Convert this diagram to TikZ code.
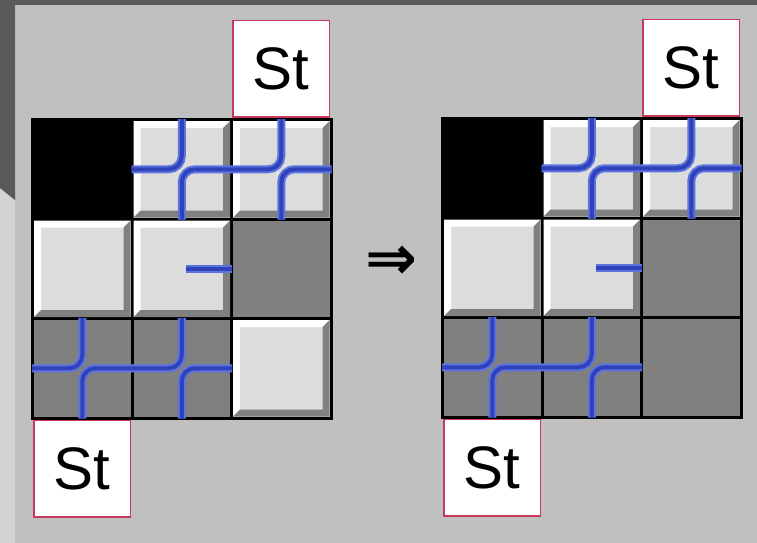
\documentclass[tikz,border=0pt]{standalone}
\usepackage{fontspec}
\setmainfont{Liberation Sans}
\newfontfamily\arrowfont{DejaVu Sans}
\usepackage{tikz}
\usetikzlibrary{positioning}

\definecolor{bggrey}{HTML}{C0C0C0}
\definecolor{framegrey}{HTML}{5A5A5A}
\definecolor{stripgrey}{HTML}{D3D3D3}
\definecolor{facegrey}{HTML}{DCDCDC}
\definecolor{shadegrey}{HTML}{808080}
\definecolor{pipeedge}{HTML}{5C74DE}
\definecolor{pipecore}{HTML}{2F42BC}
\definecolor{stred}{HTML}{C8385A}

\begin{document}
\begin{tikzpicture}[x=1pt, y=-1pt, node distance=3pt,
    cell/.style={rectangle, minimum size=96.5pt, inner sep=0pt, outer sep=0pt},
    blacktile/.style={cell, fill=black},
    darktile/.style={cell, fill=shadegrey},
    lighttile/.style={cell, fill=facegrey, path picture={
        \fill[white] (path picture bounding box.north west) -- (path picture bounding box.north east)
            -- ++(-7,7) -- ([shift={(7,7)}]path picture bounding box.north west)
            -- ([shift={(7,-7)}]path picture bounding box.south west) -- (path picture bounding box.south west) -- cycle;
        \fill[shadegrey] (path picture bounding box.south east) -- (path picture bounding box.south west)
            -- ++(7,-7) -- ([shift={(-7,-7)}]path picture bounding box.south east)
            -- ([shift={(-7,7)}]path picture bounding box.north east) -- (path picture bounding box.north east) -- cycle;
    }},
    grid/.style={rectangle, fill=black, minimum size=301.5pt, inner sep=0pt, outer sep=0pt, anchor=north west},
    startbox/.style={cell, draw=stred, line width=1.5pt, fill=white, font=\fontsize{60}{60}\selectfont},
    pipe/.style={draw=pipeedge, double=pipecore, line width=2pt, double distance=4pt, rounded corners=13pt, shorten <=-2pt, shorten >=-2pt}]

    \useasboundingbox (0,0) rectangle (757,543);
    \fill[bggrey] (0,0) rectangle (757,543);
    \fill[stripgrey] (0,188) -- (15,200) -- (15,543) -- (0,543) -- cycle;
    \fill[framegrey] (0,0) -- (757,0) -- (757,5) -- (15,5) -- (15,200) -- (0,188) -- cycle;

    % before
    \node (Lgrid) [grid] at (31,118) {};
    \node (L11) [blacktile, anchor=north west] at ([shift={(3,3)}]Lgrid.north west) {};
    \node (L12) [lighttile, right=of L11] {};
    \node (L13) [lighttile, right=of L12] {};
    \node (L21) [lighttile, below=of L11] {};
    \node (L22) [lighttile, right=of L21] {};
    \node (L23) [darktile, right=of L22] {};
    \node (L31) [darktile, below=of L21] {};
    \node (L32) [darktile, right=of L31] {};
    \node (L33) [lighttile, right=of L32] {};

    \node (Ltop) [startbox, above=4pt of L13] {St};
    \node (Lbot) [startbox, below=4pt of L31] {St};

    \draw [pipe] (L12.north) -- (L12.center) -- (L12.west);
    \draw [pipe] (L12.east) -- (L12.center) -- (L12.south);
    \draw [pipe] (L13.north) -- (L13.center) -- (L13.west);
    \draw [pipe] (L13.east) -- (L13.center) -- (L13.south);
    \draw [pipe, shorten <=4pt] (L22.center) -- (L22.east);
    \draw [pipe] (L31.north) -- (L31.center) -- (L31.west);
    \draw [pipe] (L31.east) -- (L31.center) -- (L31.south);
    \draw [pipe] (L32.north) -- (L32.center) -- (L32.west);
    \draw [pipe] (L32.east) -- (L32.center) -- (L32.south);

    \node (implies) [font=\arrowfont\bfseries\fontsize{62}{62}\selectfont] at (391,263) {⇒};

    % after
    \node (Rgrid) [grid] at (441,117) {};
    \node (R11) [blacktile, anchor=north west] at ([shift={(3,3)}]Rgrid.north west) {};
    \node (R12) [lighttile, right=of R11] {};
    \node (R13) [lighttile, right=of R12] {};
    \node (R21) [lighttile, below=of R11] {};
    \node (R22) [lighttile, right=of R21] {};
    \node (R23) [darktile, right=of R22] {};
    \node (R31) [darktile, below=of R21] {};
    \node (R32) [darktile, right=of R31] {};
    \node (R33) [darktile, right=of R32] {};

    \node (Rtop) [startbox, above=4pt of R13] {St};
    \node (Rbot) [startbox, below=4pt of R31] {St};

    \draw [pipe] (R12.north) -- (R12.center) -- (R12.west);
    \draw [pipe] (R12.east) -- (R12.center) -- (R12.south);
    \draw [pipe] (R13.north) -- (R13.center) -- (R13.west);
    \draw [pipe] (R13.east) -- (R13.center) -- (R13.south);
    \draw [pipe, shorten <=4pt] (R22.center) -- (R22.east);
    \draw [pipe] (R31.north) -- (R31.center) -- (R31.west);
    \draw [pipe] (R31.east) -- (R31.center) -- (R31.south);
    \draw [pipe] (R32.north) -- (R32.center) -- (R32.west);
    \draw [pipe] (R32.east) -- (R32.center) -- (R32.south);
\end{tikzpicture}
\end{document}
